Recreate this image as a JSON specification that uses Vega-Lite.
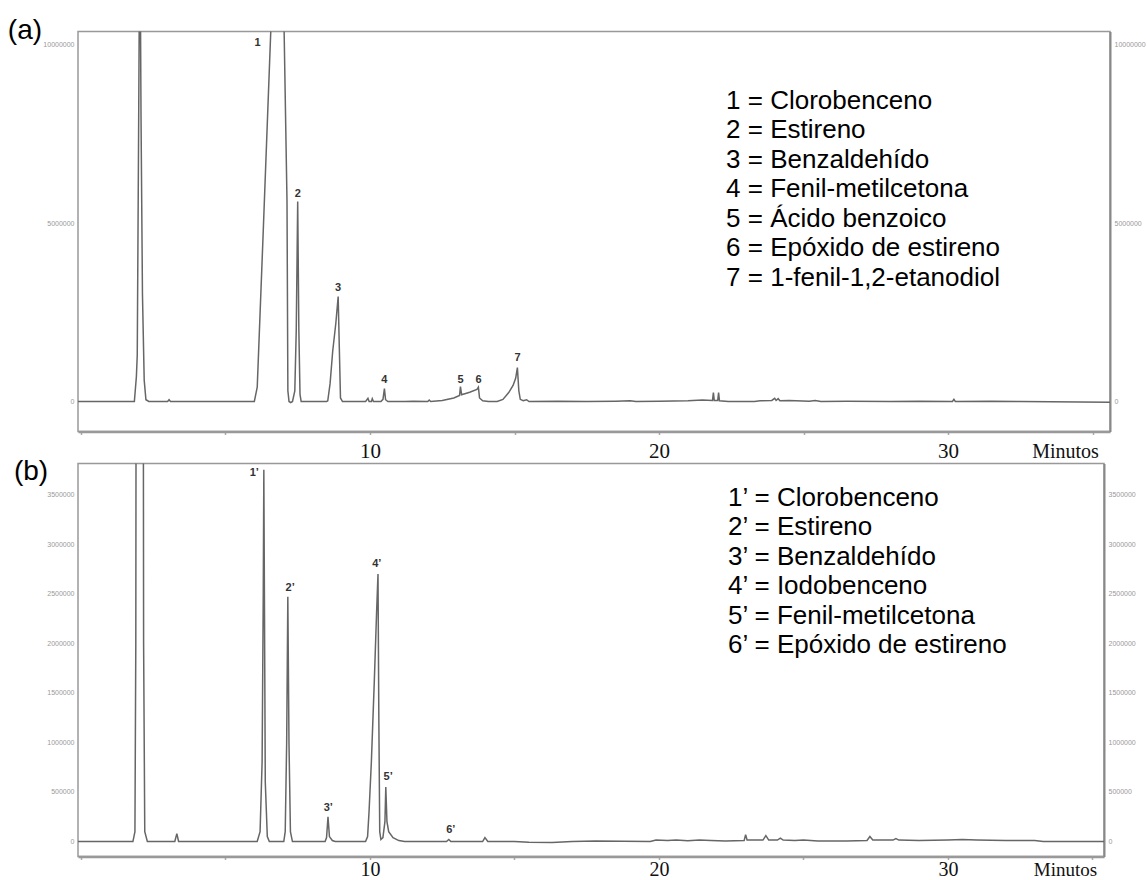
{
  "$schema": "https://vega.github.io/schema/vega-lite/v6.json",
  "background": "white",
  "padding": {"left": 7, "top": 15.5, "right": 0, "bottom": 0},
  "autosize": {"type": "pad"},
  "bounds": "flush",
  "spacing": 32,
  "config": {
    "font": "Liberation Sans",
    "view": {"stroke": "#999", "strokeWidth": 1.5}
  },
  "datasets": {
    "traceA": [
      {"t": -0.1, "v": 0}, {"t": 1.5, "v": 0}, {"t": 1.85, "v": 0}, {"t": 1.92, "v": 700000}, {"t": 1.95, "v": 1300000},
      {"t": 2.0, "v": 8000000}, {"t": 2.04, "v": 14000000}, {"t": 2.08, "v": 8000000}, {"t": 2.13, "v": 3000000},
      {"t": 2.19, "v": 600000}, {"t": 2.25, "v": 50000}, {"t": 2.35, "v": 0}, {"t": 3.0, "v": 0}, {"t": 3.05, "v": 50000},
      {"t": 3.1, "v": 0}, {"t": 6.0, "v": 0}, {"t": 6.1, "v": 400000}, {"t": 6.3, "v": 4600000}, {"t": 6.57, "v": 10400000},
      {"t": 6.8, "v": 15000000}, {"t": 7.03, "v": 10400000}, {"t": 7.13, "v": 5600000}, {"t": 7.16, "v": 300000},
      {"t": 7.2, "v": 0}, {"t": 7.26, "v": -30000}, {"t": 7.32, "v": 0}, {"t": 7.4, "v": 300000}, {"t": 7.45, "v": 2000000},
      {"t": 7.5, "v": 5600000}, {"t": 7.54, "v": 2000000}, {"t": 7.58, "v": 200000}, {"t": 7.62, "v": 0},
      {"t": 8.5, "v": 0}, {"t": 8.54, "v": 20000}, {"t": 8.62, "v": 500000}, {"t": 8.71, "v": 1400000}, {"t": 8.82, "v": 2200000},
      {"t": 8.9, "v": 2940000}, {"t": 8.94, "v": 1500000}, {"t": 8.98, "v": 100000}, {"t": 9.05, "v": 0},
      {"t": 9.85, "v": 0}, {"t": 9.93, "v": 90000}, {"t": 9.97, "v": 0}, {"t": 10.05, "v": 0}, {"t": 10.08, "v": 80000},
      {"t": 10.12, "v": 0}, {"t": 10.38, "v": 0}, {"t": 10.45, "v": 60000}, {"t": 10.5, "v": 360000}, {"t": 10.54, "v": 50000},
      {"t": 10.62, "v": 0}, {"t": 11.2, "v": 0}, {"t": 11.5, "v": 10000}, {"t": 12.0, "v": 0}, {"t": 12.05, "v": 40000},
      {"t": 12.1, "v": 0}, {"t": 12.5, "v": 30000}, {"t": 12.9, "v": 100000}, {"t": 13.1, "v": 170000}, {"t": 13.13, "v": 420000},
      {"t": 13.17, "v": 190000}, {"t": 13.45, "v": 260000}, {"t": 13.7, "v": 340000}, {"t": 13.75, "v": 400000},
      {"t": 13.79, "v": 100000}, {"t": 13.9, "v": 20000}, {"t": 14.1, "v": 0}, {"t": 14.4, "v": 0}, {"t": 14.6, "v": 60000},
      {"t": 14.8, "v": 250000}, {"t": 14.95, "v": 450000}, {"t": 15.04, "v": 650000}, {"t": 15.1, "v": 950000},
      {"t": 15.15, "v": 300000}, {"t": 15.2, "v": 60000}, {"t": 15.3, "v": 20000}, {"t": 15.42, "v": 50000}, {"t": 15.5, "v": 0},
      {"t": 16.5, "v": 10000}, {"t": 17.5, "v": 0}, {"t": 18.5, "v": 10000}, {"t": 19.0, "v": 20000}, {"t": 19.2, "v": 0},
      {"t": 20.0, "v": 10000}, {"t": 21.0, "v": 20000}, {"t": 21.5, "v": 40000}, {"t": 21.85, "v": 30000}, {"t": 21.88, "v": 250000},
      {"t": 21.91, "v": 30000}, {"t": 22.03, "v": 30000}, {"t": 22.06, "v": 250000}, {"t": 22.09, "v": 20000}, {"t": 22.4, "v": 0},
      {"t": 23.3, "v": 0}, {"t": 23.5, "v": 20000}, {"t": 23.9, "v": 30000}, {"t": 24.0, "v": 90000}, {"t": 24.05, "v": 30000},
      {"t": 24.12, "v": 80000}, {"t": 24.18, "v": 20000}, {"t": 24.5, "v": 30000}, {"t": 25.2, "v": 10000}, {"t": 25.4, "v": 30000},
      {"t": 25.6, "v": 0}, {"t": 26.5, "v": 10000}, {"t": 28.0, "v": 0}, {"t": 29.0, "v": 10000}, {"t": 30.15, "v": 0},
      {"t": 30.2, "v": 60000}, {"t": 30.25, "v": 0}, {"t": 31.5, "v": 10000}, {"t": 32.5, "v": 0}, {"t": 35.6, "v": -20000}
    ],
    "labelsA": [
      {"t": 6.11, "v": 10040000, "label": "1"},
      {"t": 7.5, "v": 5800000, "label": "2"},
      {"t": 8.9, "v": 3170000, "label": "3"},
      {"t": 10.5, "v": 610000, "label": "4"},
      {"t": 13.13, "v": 610000, "label": "5"},
      {"t": 13.76, "v": 610000, "label": "6"},
      {"t": 15.11, "v": 1230000, "label": "7"}
    ],
    "traceB": [
      {"t": -0.1, "v": 0}, {"t": 1.8, "v": 0}, {"t": 1.87, "v": 100000}, {"t": 1.9, "v": 2000000}, {"t": 1.93, "v": 10000000},
      {"t": 2.14, "v": 10000000}, {"t": 2.17, "v": 2000000}, {"t": 2.21, "v": 100000}, {"t": 2.3, "v": 0},
      {"t": 3.25, "v": 0}, {"t": 3.32, "v": 80000}, {"t": 3.38, "v": 0}, {"t": 6.1, "v": 0}, {"t": 6.2, "v": 100000},
      {"t": 6.27, "v": 800000}, {"t": 6.31, "v": 2500000}, {"t": 6.33, "v": 3750000}, {"t": 6.35, "v": 2500000},
      {"t": 6.38, "v": 600000}, {"t": 6.45, "v": 50000}, {"t": 6.52, "v": 0}, {"t": 7.02, "v": 0}, {"t": 7.07, "v": 100000},
      {"t": 7.12, "v": 1000000}, {"t": 7.16, "v": 2470000}, {"t": 7.2, "v": 1000000}, {"t": 7.25, "v": 100000}, {"t": 7.32, "v": 0},
      {"t": 8.45, "v": 0}, {"t": 8.5, "v": 40000}, {"t": 8.55, "v": 250000}, {"t": 8.6, "v": 50000}, {"t": 8.7, "v": 10000},
      {"t": 8.8, "v": 0}, {"t": 9.85, "v": 0}, {"t": 9.92, "v": 50000}, {"t": 9.97, "v": 300000}, {"t": 10.05, "v": 800000},
      {"t": 10.15, "v": 1600000}, {"t": 10.23, "v": 2300000}, {"t": 10.28, "v": 2700000}, {"t": 10.31, "v": 1200000},
      {"t": 10.34, "v": 100000}, {"t": 10.38, "v": 20000}, {"t": 10.45, "v": 40000}, {"t": 10.52, "v": 200000},
      {"t": 10.55, "v": 550000}, {"t": 10.59, "v": 200000}, {"t": 10.65, "v": 100000}, {"t": 10.8, "v": 40000},
      {"t": 11.0, "v": 10000}, {"t": 11.2, "v": 0}, {"t": 12.65, "v": 0}, {"t": 12.73, "v": 20000}, {"t": 12.8, "v": 0},
      {"t": 13.9, "v": 0}, {"t": 13.98, "v": 40000}, {"t": 14.08, "v": 0}, {"t": 15.0, "v": 0}, {"t": 15.5, "v": -8000},
      {"t": 16.3, "v": -10000}, {"t": 17.0, "v": 0}, {"t": 17.8, "v": 5000}, {"t": 19.7, "v": 0}, {"t": 19.9, "v": 15000},
      {"t": 20.3, "v": 10000}, {"t": 20.6, "v": 15000}, {"t": 21.0, "v": 8000}, {"t": 21.4, "v": 15000}, {"t": 21.8, "v": 10000},
      {"t": 22.3, "v": 5000}, {"t": 22.95, "v": 10000}, {"t": 23.0, "v": 70000}, {"t": 23.05, "v": 15000}, {"t": 23.6, "v": 15000},
      {"t": 23.7, "v": 60000}, {"t": 23.8, "v": 15000}, {"t": 24.1, "v": 15000}, {"t": 24.2, "v": 35000}, {"t": 24.3, "v": 15000},
      {"t": 24.7, "v": 10000}, {"t": 25.0, "v": 15000}, {"t": 25.5, "v": 5000}, {"t": 26.5, "v": 5000}, {"t": 27.2, "v": 10000},
      {"t": 27.3, "v": 50000}, {"t": 27.4, "v": 15000}, {"t": 28.1, "v": 15000}, {"t": 28.2, "v": 30000}, {"t": 28.3, "v": 15000},
      {"t": 29.0, "v": 10000}, {"t": 30.0, "v": 15000}, {"t": 30.5, "v": 20000}, {"t": 31.0, "v": 15000}, {"t": 32.0, "v": 10000},
      {"t": 33.0, "v": 10000}, {"t": 33.3, "v": 0}, {"t": 35.4, "v": 0}
    ],
    "labelsB": [
      {"t": 6.0, "v": 3720000, "label": "1’"},
      {"t": 7.24, "v": 2560000, "label": "2’"},
      {"t": 8.56, "v": 340000, "label": "3’"},
      {"t": 10.24, "v": 2800000, "label": "4’"},
      {"t": 10.63, "v": 650000, "label": "5’"},
      {"t": 12.8, "v": 120000, "label": "6’"}
    ]
  },
  "vconcat": [
    {
      "width": 1032,
      "height": 400,
      "resolve": {"axis": {"x": "independent", "y": "independent"}},
      "layer": [
        {
          "data": {"name": "traceA"},
          "mark": {"type": "line", "color": "#666", "strokeWidth": 1.5, "clip": true},
          "encoding": {
            "x": {"field": "t", "type": "quantitative", "scale": {"domain": [-0.1, 35.6], "nice": false, "zero": false},
              "axis": {"orient": "bottom", "values": [0, 5, 10, 15, 20, 25, 30, 35],
                "labelExpr": "(datum.value == 10 || datum.value == 20 || datum.value == 30) ? datum.label : ''",
                "grid": false, "domainColor": "#999", "domainWidth": 2.5, "tickColor": "#aaa", "tickSize": 3, "tickWidth": 1.5,
                "labelFont": "Liberation Serif", "labelFontSize": 21, "labelColor": "#111", "labelPadding": 17,
                "labelBaseline": "middle", "labelFlush": false, "labelOverlap": false,
                "title": "Minutos", "titleFont": "Liberation Serif", "titleFontSize": 20, "titleFontWeight": "normal",
                "titleColor": "#111", "titleX": 987, "titleY": 20, "titleAlign": "center", "titleBaseline": "middle"}},
            "y": {"field": "v", "type": "quantitative", "scale": {"domain": [-840000, 10364000], "nice": false, "zero": false},
              "axis": {"orient": "left", "values": [0, 5000000, 10000000], "format": "d", "ticks": false, "domain": false,
                "grid": false, "labelFontSize": 7, "labelColor": "#999", "labelPadding": 4, "title": null}}
          }
        },
        {
          "data": {"name": "labelsA"},
          "mark": {"type": "text", "fontSize": 11, "fontWeight": "bold", "color": "#333", "baseline": "middle"},
          "encoding": {
            "x": {"field": "t", "type": "quantitative", "axis": null},
            "y": {"field": "v", "type": "quantitative",
              "axis": {"orient": "right", "values": [0, 5000000, 10000000], "format": "d", "ticks": false, "domain": true,
                "domainColor": "#888", "domainWidth": 2, "grid": false, "labelFontSize": 7, "labelColor": "#999",
                "labelPadding": 4, "title": null}},
            "text": {"field": "label"}
          }
        },
        {
          "data": {"values": [{}]},
          "mark": {"type": "text", "align": "left", "baseline": "alphabetic", "fontSize": 26, "lineHeight": 29.5, "color": "black",
            "text": ["1 = Clorobenceno", "2 = Estireno", "3 = Benzaldehído", "4 = Fenil-metilcetona", "5 = Ácido benzoico",
              "6 = Epóxido de estireno", "7 = 1-fenil-1,2-etanodiol"]},
          "encoding": {
            "x": {"datum": 22.32, "type": "quantitative", "axis": null},
            "y": {"datum": 8207000, "type": "quantitative", "axis": null}
          }
        },
        {
          "data": {"values": [{}]},
          "mark": {"type": "text", "align": "left", "baseline": "alphabetic", "fontSize": 28, "color": "black", "text": "(a)"},
          "encoding": {
            "x": {"datum": -2.526, "type": "quantitative", "axis": null},
            "y": {"datum": 10154000, "type": "quantitative", "axis": null}
          }
        }
      ]
    },
    {
      "width": 1026,
      "height": 393,
      "resolve": {"axis": {"x": "independent", "y": "independent"}},
      "layer": [
        {
          "data": {"name": "traceB"},
          "mark": {"type": "line", "color": "#666", "strokeWidth": 1.5, "clip": true},
          "encoding": {
            "x": {"field": "t", "type": "quantitative", "scale": {"domain": [-0.1, 35.4], "nice": false, "zero": false},
              "axis": {"orient": "bottom", "values": [0, 5, 10, 15, 20, 25, 30, 35],
                "labelExpr": "(datum.value == 10 || datum.value == 20 || datum.value == 30) ? datum.label : ''",
                "grid": false, "domainColor": "#999", "domainWidth": 2.5, "tickColor": "#aaa", "tickSize": 3, "tickWidth": 1.5,
                "labelFont": "Liberation Serif", "labelFontSize": 20, "labelColor": "#111", "labelPadding": 10,
                "labelBaseline": "middle", "labelFlush": false, "labelOverlap": false,
                "title": "Minutos", "titleFont": "Liberation Serif", "titleFontSize": 19, "titleFontWeight": "normal",
                "titleColor": "#111", "titleX": 987, "titleY": 13, "titleAlign": "center", "titleBaseline": "middle"}},
            "y": {"field": "v", "type": "quantitative", "scale": {"domain": [-151000, 3814000], "nice": false, "zero": false},
              "axis": {"orient": "left", "values": [0, 500000, 1000000, 1500000, 2000000, 2500000, 3000000, 3500000], "format": "d",
                "ticks": false, "domain": false, "grid": false, "labelFontSize": 7, "labelColor": "#999", "labelPadding": 4, "title": null}}
          }
        },
        {
          "data": {"name": "labelsB"},
          "mark": {"type": "text", "fontSize": 11, "fontWeight": "bold", "color": "#333", "baseline": "middle"},
          "encoding": {
            "x": {"field": "t", "type": "quantitative", "axis": null},
            "y": {"field": "v", "type": "quantitative",
              "axis": {"orient": "right", "values": [0, 500000, 1000000, 1500000, 2000000, 2500000, 3000000, 3500000], "format": "d",
                "ticks": false, "domain": true, "domainColor": "#888", "domainWidth": 2, "grid": false, "labelFontSize": 7,
                "labelColor": "#999", "labelPadding": 4, "title": null}},
            "text": {"field": "label"}
          }
        },
        {
          "data": {"values": [{}]},
          "mark": {"type": "text", "align": "left", "baseline": "alphabetic", "fontSize": 26, "lineHeight": 29.5, "color": "black",
            "text": ["1’ = Clorobenceno", "2’ = Estireno", "3’ = Benzaldehído", "4’ = Iodobenceno", "5’ = Fenil-metilcetona",
              "6’ = Epóxido  de estireno"]},
          "encoding": {
            "x": {"datum": 22.39, "type": "quantitative", "axis": null},
            "y": {"datum": 3390000, "type": "quantitative", "axis": null}
          }
        },
        {
          "data": {"values": [{}]},
          "mark": {"type": "text", "align": "left", "baseline": "alphabetic", "fontSize": 28, "color": "black", "text": "(b)"},
          "encoding": {
            "x": {"datum": -2.318, "type": "quantitative", "axis": null},
            "y": {"datum": 3648000, "type": "quantitative", "axis": null}
          }
        }
      ]
    }
  ]
}
